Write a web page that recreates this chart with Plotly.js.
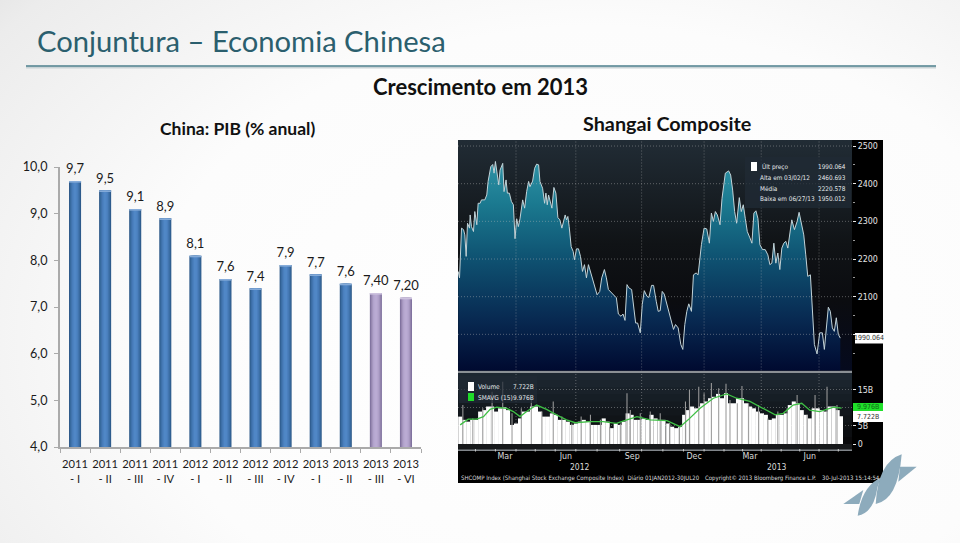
<!DOCTYPE html>
<html><head><meta charset="utf-8">
<script src="https://cdn.plot.ly/plotly-3.0.1.min.js"></script>
<style>
html,body{margin:0;padding:0;width:960px;height:543px;overflow:hidden;
background:radial-gradient(ellipse 900px 620px at 62% 62%,#ffffff 0%,#fcfcfc 50%,#ececec 82%,#d6d6d6 100%);}
#chart{width:960px;height:543px}
</style></head><body><div id="chart"></div>
<script>
// ---------- PIB chart ----------
const quarters=['2011<br>- I','2011<br>- II','2011<br>- III','2011<br>- IV','2012<br>- I','2012<br>- II','2012<br>- III','2012<br>- IV','2013<br>- I','2013<br>- II','2013<br>- III','2013<br>- VI'];
const pib=[9.7,9.5,9.1,8.9,8.1,7.6,7.4,7.9,7.7,7.5,7.3,7.2];
const pibLabels=['9,7','9,5','9,1','8,9','8,1','7,6','7,4','7,9','7,7','7,6','7,40','7,20'];
const pibTicks=[4,5,6,7,8,9,10];
const pibTickText=['4,0','5,0','6,0','7,0','8,0','9,0','10,0'];
const isForecast=[0,0,0,0,0,0,0,0,0,0,1,1];
// ---------- Shanghai Composite (x = days since 1 Jan 2012, as drawn) ----------
const priceDays=[4,6,9,12,14,16,18,21,22,24,27,29,32,34,37,39,44,47,49,53,56,58,60,63,65,67,71,73,76,78,81,84,87,89.5,92,94.5,97,101,104,107,110,112,116,119,122,125,127,131,134,136,138,140,145,148,151,154,157,160,163,165,167,169,171,174,177,179,182,185,188,191,194,197,200,203,206,210,213,217,220,224,227,230,233,237,242,245,249,252,255,258,261,265,268,271,274,278,281,284,288,291,295,298,302,305,308,311,314,318,321,325,328,331,335,339,342,345,348,351,355,358,362,365,368,370,374,378,382,385,388,391,394,398,401,406,411,414,417,420,423,427,430,433,436,439,443,446,449,452,455,458,462,466,470,473,476,479,482,485,488,491,494,497,500,503,506,510,514,517,520,524,527,530,534,537,540,544,548,552,555,561,564,567,570,573,576,579];
const prices=[2167,2150,2282,2278,2264,2207,2295,2282,2317,2286,2273,2326,2291,2348,2348,2357,2357,2370,2406,2445,2451,2428,2459,2423,2397,2436,2454,2379,2410,2375,2375,2353,2344,2254,2307,2286,2307,2357,2335,2379,2406,2392,2407,2441,2452,2450,2406,2388,2348,2375,2344,2370,2335,2390,2375,2310,2304,2282,2307,2317,2304,2313,2286,2233,2220,2198,2227,2227,2207,2167,2185,2150,2185,2167,2145,2128,2105,2114,2150,2172,2150,2119,2113,2105,2097,2054,2048,2054,2037,2132,2123,2119,2066,2030,2030,2004,2079,2116,2101,2098,2130,2130,2088,2061,2063,2114,2107,2079,2061,2030,2013,2026,2017,1973,1960,2026,2061,2081,2061,2158,2163,2158,2211,2238,2282,2280,2242,2322,2300,2326,2317,2291,2361,2428,2434,2423,2383,2326,2295,2363,2326,2344,2308,2273,2256,2242,2322,2328,2308,2238,2225,2225,2211,2185,2189,2242,2189,2216,2172,2229,2242,2247,2229,2273,2304,2278,2300,2324,2300,2264,2211,2154,2158,2079,1973,1948,2004,2004,1960,2072,2061,2017,2008,2044,2000,1990];
const priceTicks=[2000,2100,2200,2300,2400,2500];
const priceTickText=['','2100','2200','2300','2400','2500'];
// ---------- Volume, billions ----------
const volDays=[7,13,19,25,31,37,43,49,55,61,67,73,79,85,91,97,103,109,115,121,127,133,139,145,151,157,163,169,175,181,187,193,199,205,211,217,223,229,235,241,247,253,259,265,271,277,283,289,295,301,307,313,320,326,332,338,344,350,356,362,368,371,377,383,389,395,401,407,413,419,425,431,437,443,449,455,461,467,473,479,485,491,497,503,509,515,521,527,533,539,545,551,557,563,569,575,580];
const volume=[7.6,6.7,6.2,6.7,6.7,9.0,9.4,10.4,10.4,9.0,9.9,10.2,9.4,5.3,5.7,7.1,9.0,9.0,10.4,10.4,9.0,7.6,7.6,8.5,8.1,6.7,6.7,6.2,5.3,5.7,6.2,6.7,6.2,5.3,5.3,5.3,7.1,6.2,4.4,5.7,5.3,6.2,8.5,8.1,6.7,6.7,7.1,6.7,8.1,7.1,6.7,6.7,5.7,4.8,4.4,4.8,8.1,9.4,10.4,9.9,10.4,11.3,11.8,12.7,13.1,13.9,12.7,14.1,11.3,11.3,12.7,12.7,11.3,10.4,9.9,9.0,8.5,8.1,6.7,7.1,8.1,8.1,8.5,10.8,11.8,11.3,9.4,8.1,7.1,9.9,9.9,9.4,9.0,10.4,10.4,9.4,7.7];
const spikeDays=[11,26,41,55,71,85,99,114,130,147,160,175,189,203,218,232,248,258,263,278,293,308,322,337,346,352,366,374,385,396,407,413,424,431,441,456,470,485,499,514,529,541,559,574];
const spikes=[10.8,7.1,9.9,14.5,17.3,8.5,9.9,12.7,9.0,11.8,7.6,5.7,7.6,8.1,6.7,4.8,5.7,14.1,9.4,8.5,9,8.5,5.7,4.8,11.8,15,15.9,14.1,16.9,15.5,16.7,12.2,11.3,16.1,11.3,10.8,7.1,9,9.9,13.6,8.1,13.6,15.9,10.8];
const smaDays=[7,19,32,42,52,62,77,87,97,107,122,137,152,167,180,202,222,242,258,273,293,318,338,350,368,388,408,423,443,463,481,493,508,521,533,548,569,581];
const sma=[5.3,6.9,6.9,7.6,9.6,10.2,9.9,9.0,7.6,9.0,10.8,9.6,8.1,6.7,5.9,6.2,6.2,5.7,6.7,7.6,6.7,6.5,4.8,6.7,9.9,12.7,13.9,12.7,11.8,9.9,8.1,8.5,10.8,11.3,9.4,9.0,10.2,9.98];
const volTicks=[0,5,10,15];
const volTickText=['0','5B','','15B'];
const gridDays=[91,181,280,374,460,547];
const monthDays=[74.4,166,266,359,443,533];
const monthNames=['Mar','Jun','Sep','Dec','Mar','Jun'];
const monthTickDays=[30,60,91,120,150,181,213,247,280,312,343,374,404,432,460,490,518,547,576];
const lowerBg=['#1d2731','#1b242d','#192129','#161e25','#141a20','#12171c','#101418','#0e1114','#0c0e11','#0a0a0c'];

const W=960,H=543;
const px=x=>x/W, py=y=>1-y/H;
const SANS='Lato, "Open Sans", sans-serif';
const NARROW='"Liberation Sans Narrow","DejaVu Sans Condensed",sans-serif';

// layered bars give the rounded look of the original's columns
const blueRamp=['#2c5888','#386a9f','#4174ae','#4a7fbd','#5087c6'];
const purpleRamp=['#7d6f9c','#9384ad','#a596bf','#b3a4cd','#baabd3'];
const widths=[0.40,0.34,0.27,0.19,0.10];
const traces=[];
widths.forEach((w,i)=>traces.push({type:'bar',x:quarters,y:pib,width:w,hoverinfo:'skip',
  marker:{color:isForecast.map(f=>f?purpleRamp[i]:blueRamp[i]),line:{width:0}},xaxis:'x',yaxis:'y'}));
traces.push({type:'bar',x:quarters,y:pib.map(()=>0.035),base:pib.map(v=>v-0.035),width:0.40,hoverinfo:'skip',
  marker:{color:isForecast.map(f=>f?'#cdc2de':'#86acd9'),line:{width:0}},xaxis:'x',yaxis:'y'});
traces.push({type:'scatter',mode:'markers+text',x:quarters,y:pib,text:pibLabels,textposition:'top center',cliponaxis:false,
  marker:{size:5.5,opacity:0},textfont:{family:SANS,size:13,color:'#1a1a1a'},hoverinfo:'skip',xaxis:'x',yaxis:'y'});

// upper panel
traces.push({type:'scatter',mode:'lines',x:[3.7,596.6],y:[2516,2516],line:{width:0},fill:'tozeroy',hoverinfo:'skip',
  fillgradient:{type:'vertical',start:1904,stop:2516,colorscale:[[0,'#050a1e'],[0.3,'#0b0c10'],[0.55,'#101316'],[1,'#212c35']]},xaxis:'x2',yaxis:'y2'});
traces.push({type:'scatter',mode:'lines',x:priceDays,y:prices,line:{color:'#c2d3d8',width:1},fill:'tozeroy',hoverinfo:'skip',
  fillgradient:{type:'vertical',start:1904,stop:2460,colorscale:[[0,'#000a30'],[0.25,'#082a52'],[0.55,'#0f5473'],[0.8,'#1b7a90'],[1,'#2f92a5']]},xaxis:'x2',yaxis:'y2'});
// lower panel
traces.push({type:'bar',x:volDays,y:volume,width:6.1,marker:{color:'#ffffff',line:{width:0}},hoverinfo:'skip',xaxis:'x3',yaxis:'y3'});
traces.push({type:'bar',x:spikeDays,y:spikes,width:1.6,marker:{color:'#9b9b9b',line:{width:0}},hoverinfo:'skip',xaxis:'x3',yaxis:'y3'});
traces.push({type:'scatter',mode:'lines',x:smaDays,y:sma,line:{color:'#3fbf45',width:1.3},hoverinfo:'skip',xaxis:'x3',yaxis:'y3'});

const note=(text,x,y,o={})=>({text,x:px(x),y:py(y),xref:'paper',yref:'paper',showarrow:false,
  xanchor:o.a||'center',yanchor:'middle',align:o.a||'center',
  font:{family:o.f||SANS,size:o.s||12,color:o.c||'#000',weight:o.w||400}});
const rect=(x0,y0,x1,y1,fill,layer)=>({type:'rect',xref:'paper',yref:'paper',x0:px(x0),x1:px(x1),y0:py(y0),y1:py(y1),
  fillcolor:fill,line:{width:0},layer:layer||'below'});
const P=(cmds)=>cmds.map(c=>typeof c==='string'?c:px(c[0]).toFixed(5)+','+py(c[1]).toFixed(5)).join(' ');
const logo=(cmds)=>({type:'path',xref:'paper',yref:'paper',path:P(cmds),fillcolor:'#8dabbc',line:{width:0},layer:'below'});
const DOT='rgba(190,190,190,.42)';
const FINE='1px,2px';

const shapes=[
  rect(458,140,883,483,'#000000'),
  {type:'line',xref:'paper',yref:'paper',x0:px(26),x1:px(936),y0:py(67.5),y1:py(67.5),line:{color:'#c9d3d6',width:2},layer:'below'},
  {type:'line',xref:'paper',yref:'paper',x0:px(26),x1:px(936),y0:py(66),y1:py(66),line:{color:'#4d7f8c',width:1.6},layer:'below'},
  ...lowerBg.map((c,i)=>rect(458,373+i*7.1,852,444,c)),
  rect(458,370.5,852,373,'#8b9095'),
  rect(458,444,852,450,'#17191b'),
  rect(458,449.6,852,451,'#80858a'),
  // lower-panel vertical grid
  ...gridDays.map(d=>({type:'line',xref:'x3',yref:'y3',x0:d,x1:d,y0:0,y1:19.7,line:{color:DOT,width:1,dash:FINE},layer:'below'})),
  // upper-panel grid, drawn over the filled area
  ...gridDays.map(d=>({type:'line',xref:'x2',yref:'y2',x0:d,x1:d,y0:1904,y1:2516,line:{color:DOT,width:1,dash:FINE},layer:'above'})),
  ...priceTicks.map(v=>({type:'line',xref:'x2',yref:'y2',x0:3.7,x1:596.6,y0:v,y1:v,line:{color:DOT,width:1,dash:FINE},layer:'above'})),
  // month ticks in the date band
  ...monthTickDays.map(d=>({type:'line',xref:'x3',yref:'paper',x0:d,x1:d,y0:py(449),y1:py(451.5),line:{color:'#c8c8c8',width:1},layer:'above'})),
  // legend boxes and swatches
  rect(745,157,851,208,'rgba(32,42,52,.78)','above'),
  rect(751,162,757,171,'#ffffff','above'),
  rect(459,376,537,403,'rgba(32,42,52,.72)','above'),
  rect(468,382,474,391,'#ffffff','above'),
  rect(468,393,474,401,'#1fdc2a','above'),
  // right-axis flags
  rect(855,333,883,343.5,'#ffffff','above'),
  rect(853,403,883,411,'#1fe02a','above'),
  rect(853,411,883,422,'#ffffff','above'),
  // logo
  logo(['M',[901.7,454.3],'Q',[878,462],[875.7,504],'Q',[898,500],[901.7,454.3],'Z']),
  logo(['M',[882.7,476.7],'Q',[862,485],[857.7,515.7],'Q',[873,513],[877,490],'Q',[878,483],[882.7,476.7],'Z']),
  logo(['M',[900,466.7],'L',[916.7,466.7],'L',[898.3,481.7],'Z']),
  logo(['M',[843.3,504],'L',[863.3,490],'L',[859.3,504],'Z']),
];

const LEG={s:6.4,f:NARROW,c:'#e4e8ea'};
const LEG2={s:6.5,f:NARROW,c:'#e4e8ea'};
const FOOT={s:6,f:NARROW,c:'#dcdcdc'};
const annotations=[
  note('Conjuntura – Economia Chinesa',35,40.5,{a:'left',s:29.2,c:'#2b5f6e'}),
  note('Crescimento em 2013',480,86,{s:22,w:700,c:'#111'}),
  note('China: PIB (% anual)',237,129,{s:17.5,w:700,c:'#111'}),
  note('Shangai Composite',667,122.5,{s:19.8,w:700,c:'#111'}),
  // price legend
  note('Últ preço',760,167,{a:'left',...LEG}),
  note('Alta em 03/02/12',758,178,{a:'left',...LEG}),
  note('Média',758,188.5,{a:'left',...LEG}),
  note('Baixa em 06/27/13',758,199,{a:'left',...LEG}),
  note('1990.064',848,167,{a:'right',...LEG}),
  note('2460.693',848,178,{a:'right',...LEG}),
  note('2220.578',848,188.5,{a:'right',...LEG}),
  note('1950.012',848,199,{a:'right',...LEG}),
  // volume legend
  note('Volume',476,387,{a:'left',...LEG2}),
  note('SMAVG (15)',476,397.5,{a:'left',...LEG2}),
  note('7.722B',536,387,{a:'right',...LEG2}),
  note('9.976B',536,397.5,{a:'right',...LEG2}),
  // flags at right axis
  note('1990.064',869,338,{s:7,f:NARROW,c:'#333'}),
  note('9.976B',868,407,{s:7,f:NARROW,c:'#116618'}),
  note('7.722B',868,416.5,{s:7,f:NARROW,c:'#333'}),
  // date band
  note('2012',580,467,{s:8.5,f:NARROW,c:'#dcdcdc'}),
  note('2013',777,467,{s:8.5,f:NARROW,c:'#dcdcdc'}),
  note('SHCOMP Index (Shanghai Stock Exchange Composite Index)  Diário 01JAN2012-30JUL20',459,478,{a:'left',...FOOT}),
  note('Copyright© 2013 Bloomberg Finance L.P.',703,478,{a:'left',...FOOT}),
  note('30-Jul-2013 15:14:54',882,478,{a:'right',...FOOT}),
];

const layout={width:W,height:H,margin:{l:0,r:0,t:0,b:0,pad:0},autosize:false,showlegend:false,barmode:'overlay',
  paper_bgcolor:'rgba(0,0,0,0)',plot_bgcolor:'rgba(0,0,0,0)',hovermode:false,
  xaxis:{domain:[px(60),px(421)],type:'category',range:[-0.5,11.5],anchor:'y',tickson:'boundaries',ticks:'outside',ticklen:4,tickcolor:'#aaaaaa',
    linecolor:'#aaaaaa',linewidth:1.5,showgrid:false,zeroline:false,tickangle:0,ticklabelstandoff:6,tickfont:{family:SANS,size:11.2,color:'#1a1a1a'},fixedrange:true},
  yaxis:{domain:[py(447),py(167)],range:[4,10],anchor:'x',tickvals:pibTicks,ticktext:pibTickText,ticks:'outside',ticklen:4,tickcolor:'#aaaaaa',ticklabelstandoff:4,
    linecolor:'#aaaaaa',linewidth:2,showline:true,showgrid:false,zeroline:false,tickfont:{family:SANS,size:12.6,color:'#1a1a1a'},fixedrange:true},
  xaxis2:{domain:[px(458),px(852)],range:[3.7,596.6],anchor:'y2',showticklabels:false,ticks:'',showline:false,showgrid:false,zeroline:false},
  yaxis2:{domain:[py(370.5),py(140)],range:[1904,2516],anchor:'x2',side:'right',tickvals:priceTicks,ticktext:priceTickText,ticks:'outside',ticklen:3,tickcolor:'#e8e8e8',
    minor:{dtick:50,ticks:'outside',ticklen:2,tickcolor:'#999',showgrid:false},
    showgrid:false,zeroline:false,showline:false,tickfont:{family:NARROW,size:8.8,color:'#e4e4e4'}},
  xaxis3:{domain:[px(458),px(852)],range:[3.7,596.6],anchor:'y3',tickvals:monthDays,ticktext:monthNames,ticks:'',ticklen:0,showline:false,
    showgrid:false,zeroline:false,tickfont:{family:NARROW,size:8.8,color:'#dcdcdc'},ticklabelstandoff:5},
  yaxis3:{domain:[py(444),py(373)],range:[0,19.7],anchor:'x3',side:'right',tickvals:volTicks,ticktext:volTickText,ticks:'outside',ticklen:3,tickcolor:'#e8e8e8',
    showgrid:true,griddash:FINE,gridcolor:DOT,gridwidth:1,zeroline:false,showline:false,
    tickfont:{family:NARROW,size:8.8,color:'#e4e4e4'}},
  shapes,annotations};
Plotly.newPlot('chart',traces,layout,{displayModeBar:false,staticPlot:true});
</script></body></html>
